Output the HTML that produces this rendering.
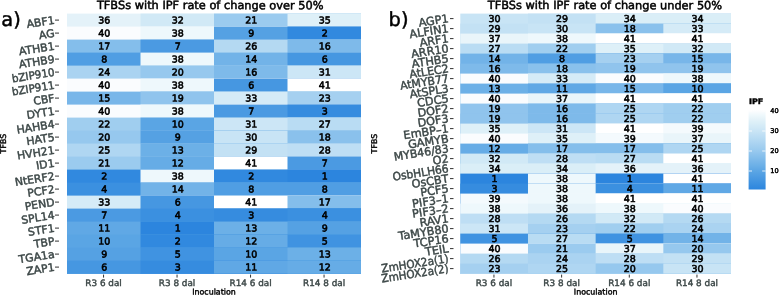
<!DOCTYPE html>
<html><head><meta charset="utf-8"><title>TFBS IPF heatmaps</title>
<style>
html,body{margin:0;padding:0;background:#fff;}
body{width:779px;height:295px;overflow:hidden;}
svg{display:block;font-family:"DejaVu Sans", "Liberation Sans", sans-serif;}
.cell{font-size:9.5px;fill:#000;text-anchor:middle;stroke:#000;stroke-width:0.6px;}
.yl{font-size:10.9px;fill:#3c4747;text-anchor:end;stroke:#3c4747;stroke-width:0.45px;}
.xl{font-size:8.85px;fill:#3c4747;text-anchor:middle;stroke:#3c4747;stroke-width:0.4px;}
.ttl{font-size:11.3px;fill:#000;stroke:#000;stroke-width:0.5px;}
.ax{font-size:7.9px;fill:#000;text-anchor:middle;stroke:#000;stroke-width:0.4px;}
.tag{font-size:19.4px;fill:#000;stroke:#000;stroke-width:0.45px;}
.lg{font-size:6.6px;fill:#000;stroke:#000;stroke-width:0.45px;}
.tk{stroke:#333;stroke-width:1;}
</style></head><body>
<svg width="779" height="295" viewBox="0 0 779 295">
<rect width="779" height="295" fill="#fff"/>
<g>
<rect x="67.00" y="13.60" width="294.00" height="260.00" fill="#e4f2f9"/>
<rect x="140.50" y="13.60" width="220.50" height="260.00" fill="#d1e9f6"/>
<rect x="214.00" y="13.60" width="147.00" height="260.00" fill="#9bcbef"/>
<rect x="287.50" y="13.60" width="73.50" height="260.00" fill="#def0f8"/>
<rect x="67.00" y="26.60" width="294.00" height="247.00" fill="#fafcfe"/>
<rect x="140.50" y="26.60" width="220.50" height="247.00" fill="#eef8fc"/>
<rect x="214.00" y="26.60" width="147.00" height="247.00" fill="#55a1e3"/>
<rect x="287.50" y="26.60" width="73.50" height="247.00" fill="#3189df"/>
<rect x="67.00" y="39.60" width="294.00" height="234.00" fill="#84beeb"/>
<rect x="140.50" y="39.60" width="220.50" height="234.00" fill="#4b9ae2"/>
<rect x="214.00" y="39.60" width="147.00" height="234.00" fill="#b4d9f2"/>
<rect x="287.50" y="39.60" width="73.50" height="234.00" fill="#7ebaea"/>
<rect x="67.00" y="52.60" width="294.00" height="221.00" fill="#509ee3"/>
<rect x="140.50" y="52.60" width="220.50" height="221.00" fill="#eef8fc"/>
<rect x="214.00" y="52.60" width="147.00" height="221.00" fill="#72b3e8"/>
<rect x="287.50" y="52.60" width="73.50" height="221.00" fill="#4697e1"/>
<rect x="67.00" y="65.60" width="294.00" height="208.00" fill="#aad3f1"/>
<rect x="140.50" y="65.60" width="220.50" height="208.00" fill="#96c8ee"/>
<rect x="214.00" y="65.60" width="147.00" height="208.00" fill="#7ebaea"/>
<rect x="287.50" y="65.60" width="73.50" height="208.00" fill="#cce6f6"/>
<rect x="67.00" y="78.60" width="294.00" height="195.00" fill="#fafcfe"/>
<rect x="140.50" y="78.60" width="220.50" height="195.00" fill="#eef8fc"/>
<rect x="214.00" y="78.60" width="147.00" height="195.00" fill="#4697e1"/>
<rect x="287.50" y="78.60" width="73.50" height="195.00" fill="#ffffff"/>
<rect x="67.00" y="91.60" width="294.00" height="182.00" fill="#78b6e9"/>
<rect x="140.50" y="91.60" width="220.50" height="182.00" fill="#90c4ed"/>
<rect x="214.00" y="91.60" width="147.00" height="182.00" fill="#d5ebf7"/>
<rect x="287.50" y="91.60" width="73.50" height="182.00" fill="#a5d0f0"/>
<rect x="67.00" y="104.60" width="294.00" height="169.00" fill="#fafcfe"/>
<rect x="140.50" y="104.60" width="220.50" height="169.00" fill="#eef8fc"/>
<rect x="214.00" y="104.60" width="147.00" height="169.00" fill="#4b9ae2"/>
<rect x="287.50" y="104.60" width="73.50" height="169.00" fill="#368cdf"/>
<rect x="67.00" y="117.60" width="294.00" height="156.00" fill="#a0ceef"/>
<rect x="140.50" y="117.60" width="220.50" height="156.00" fill="#5aa5e4"/>
<rect x="214.00" y="117.60" width="147.00" height="156.00" fill="#cce6f6"/>
<rect x="287.50" y="117.60" width="73.50" height="156.00" fill="#b9dcf3"/>
<rect x="67.00" y="130.60" width="294.00" height="143.00" fill="#96c8ee"/>
<rect x="140.50" y="130.60" width="220.50" height="143.00" fill="#55a1e3"/>
<rect x="214.00" y="130.60" width="147.00" height="143.00" fill="#c8e4f5"/>
<rect x="287.50" y="130.60" width="73.50" height="143.00" fill="#8ac1ec"/>
<rect x="67.00" y="143.60" width="294.00" height="130.00" fill="#afd6f2"/>
<rect x="140.50" y="143.60" width="220.50" height="130.00" fill="#6cb0e7"/>
<rect x="214.00" y="143.60" width="147.00" height="130.00" fill="#c3e1f4"/>
<rect x="287.50" y="143.60" width="73.50" height="130.00" fill="#bedef4"/>
<rect x="67.00" y="156.60" width="294.00" height="117.00" fill="#9bcbef"/>
<rect x="140.50" y="156.60" width="220.50" height="117.00" fill="#66ace6"/>
<rect x="214.00" y="156.60" width="147.00" height="117.00" fill="#ffffff"/>
<rect x="287.50" y="156.60" width="73.50" height="117.00" fill="#4b9ae2"/>
<rect x="67.00" y="169.60" width="294.00" height="104.00" fill="#3189df"/>
<rect x="140.50" y="169.60" width="220.50" height="104.00" fill="#eef8fc"/>
<rect x="214.00" y="169.60" width="147.00" height="104.00" fill="#3189df"/>
<rect x="287.50" y="169.60" width="73.50" height="104.00" fill="#2c85de"/>
<rect x="67.00" y="182.60" width="294.00" height="91.00" fill="#3b90e0"/>
<rect x="140.50" y="182.60" width="220.50" height="91.00" fill="#72b3e8"/>
<rect x="214.00" y="182.60" width="147.00" height="91.00" fill="#509ee3"/>
<rect x="287.50" y="182.60" width="73.50" height="91.00" fill="#509ee3"/>
<rect x="67.00" y="195.60" width="294.00" height="78.00" fill="#d5ebf7"/>
<rect x="140.50" y="195.60" width="220.50" height="78.00" fill="#4697e1"/>
<rect x="214.00" y="195.60" width="147.00" height="78.00" fill="#ffffff"/>
<rect x="287.50" y="195.60" width="73.50" height="78.00" fill="#84beeb"/>
<rect x="67.00" y="208.60" width="294.00" height="65.00" fill="#4b9ae2"/>
<rect x="140.50" y="208.60" width="220.50" height="65.00" fill="#3b90e0"/>
<rect x="214.00" y="208.60" width="147.00" height="65.00" fill="#368cdf"/>
<rect x="287.50" y="208.60" width="73.50" height="65.00" fill="#3b90e0"/>
<rect x="67.00" y="221.60" width="294.00" height="52.00" fill="#60a8e5"/>
<rect x="140.50" y="221.60" width="220.50" height="52.00" fill="#2c85de"/>
<rect x="214.00" y="221.60" width="147.00" height="52.00" fill="#6cb0e7"/>
<rect x="287.50" y="221.60" width="73.50" height="52.00" fill="#55a1e3"/>
<rect x="67.00" y="234.60" width="294.00" height="39.00" fill="#5aa5e4"/>
<rect x="140.50" y="234.60" width="220.50" height="39.00" fill="#3189df"/>
<rect x="214.00" y="234.60" width="147.00" height="39.00" fill="#66ace6"/>
<rect x="287.50" y="234.60" width="73.50" height="39.00" fill="#4093e1"/>
<rect x="67.00" y="247.60" width="294.00" height="26.00" fill="#55a1e3"/>
<rect x="140.50" y="247.60" width="220.50" height="26.00" fill="#4093e1"/>
<rect x="214.00" y="247.60" width="147.00" height="26.00" fill="#5aa5e4"/>
<rect x="287.50" y="247.60" width="73.50" height="26.00" fill="#6cb0e7"/>
<rect x="67.00" y="260.60" width="294.00" height="13.00" fill="#4697e1"/>
<rect x="140.50" y="260.60" width="220.50" height="13.00" fill="#368cdf"/>
<rect x="214.00" y="260.60" width="147.00" height="13.00" fill="#60a8e5"/>
<rect x="287.50" y="260.60" width="73.50" height="13.00" fill="#66ace6"/>
</g>
<text class="cell" transform="translate(104.25 23.50) skewY(0.05)">36</text>
<text class="cell" transform="translate(177.75 23.50) skewY(0.05)">32</text>
<text class="cell" transform="translate(251.25 23.50) skewY(0.05)">21</text>
<text class="cell" transform="translate(324.75 23.50) skewY(0.05)">35</text>
<line class="tk" x1="55" x2="59" y1="20.10" y2="20.10"/>
<text class="yl" style="font-size:10.9px" transform="translate(55.0,23.70) rotate(-9)">ABF1</text>
<text class="cell" transform="translate(104.25 36.50) skewY(0.05)">40</text>
<text class="cell" transform="translate(177.75 36.50) skewY(0.05)">38</text>
<text class="cell" transform="translate(251.25 36.50) skewY(0.05)">9</text>
<text class="cell" transform="translate(324.75 36.50) skewY(0.05)">2</text>
<line class="tk" x1="55" x2="59" y1="33.10" y2="33.10"/>
<text class="yl" style="font-size:10.9px" transform="translate(55.0,36.70) rotate(-9)">AG</text>
<text class="cell" transform="translate(104.25 49.50) skewY(0.05)">17</text>
<text class="cell" transform="translate(177.75 49.50) skewY(0.05)">7</text>
<text class="cell" transform="translate(251.25 49.50) skewY(0.05)">26</text>
<text class="cell" transform="translate(324.75 49.50) skewY(0.05)">16</text>
<line class="tk" x1="55" x2="59" y1="46.10" y2="46.10"/>
<text class="yl" style="font-size:10.9px" transform="translate(55.0,49.70) rotate(-9)">ATHB1</text>
<text class="cell" transform="translate(104.25 62.50) skewY(0.05)">8</text>
<text class="cell" transform="translate(177.75 62.50) skewY(0.05)">38</text>
<text class="cell" transform="translate(251.25 62.50) skewY(0.05)">14</text>
<text class="cell" transform="translate(324.75 62.50) skewY(0.05)">6</text>
<line class="tk" x1="55" x2="59" y1="59.10" y2="59.10"/>
<text class="yl" style="font-size:10.9px" transform="translate(55.0,62.70) rotate(-9)">ATHB9</text>
<text class="cell" transform="translate(104.25 75.50) skewY(0.05)">24</text>
<text class="cell" transform="translate(177.75 75.50) skewY(0.05)">20</text>
<text class="cell" transform="translate(251.25 75.50) skewY(0.05)">16</text>
<text class="cell" transform="translate(324.75 75.50) skewY(0.05)">31</text>
<line class="tk" x1="55" x2="59" y1="72.10" y2="72.10"/>
<text class="yl" style="font-size:10.9px" transform="translate(55.0,75.70) rotate(-9)" textLength="43.0" lengthAdjust="spacingAndGlyphs">bZIP910</text>
<text class="cell" transform="translate(104.25 88.50) skewY(0.05)">40</text>
<text class="cell" transform="translate(177.75 88.50) skewY(0.05)">38</text>
<text class="cell" transform="translate(251.25 88.50) skewY(0.05)">6</text>
<text class="cell" transform="translate(324.75 88.50) skewY(0.05)">41</text>
<line class="tk" x1="55" x2="59" y1="85.10" y2="85.10"/>
<text class="yl" style="font-size:10.9px" transform="translate(55.0,88.70) rotate(-9)" textLength="43.0" lengthAdjust="spacingAndGlyphs">bZIP911</text>
<text class="cell" transform="translate(104.25 101.50) skewY(0.05)">15</text>
<text class="cell" transform="translate(177.75 101.50) skewY(0.05)">19</text>
<text class="cell" transform="translate(251.25 101.50) skewY(0.05)">33</text>
<text class="cell" transform="translate(324.75 101.50) skewY(0.05)">23</text>
<line class="tk" x1="55" x2="59" y1="98.10" y2="98.10"/>
<text class="yl" style="font-size:10.9px" transform="translate(55.0,101.70) rotate(-9)">CBF</text>
<text class="cell" transform="translate(104.25 114.50) skewY(0.05)">40</text>
<text class="cell" transform="translate(177.75 114.50) skewY(0.05)">38</text>
<text class="cell" transform="translate(251.25 114.50) skewY(0.05)">7</text>
<text class="cell" transform="translate(324.75 114.50) skewY(0.05)">3</text>
<line class="tk" x1="55" x2="59" y1="111.10" y2="111.10"/>
<text class="yl" style="font-size:10.9px" transform="translate(55.0,114.70) rotate(-9)">DYT1</text>
<text class="cell" transform="translate(104.25 127.50) skewY(0.05)">22</text>
<text class="cell" transform="translate(177.75 127.50) skewY(0.05)">10</text>
<text class="cell" transform="translate(251.25 127.50) skewY(0.05)">31</text>
<text class="cell" transform="translate(324.75 127.50) skewY(0.05)">27</text>
<line class="tk" x1="55" x2="59" y1="124.10" y2="124.10"/>
<text class="yl" style="font-size:10.9px" transform="translate(55.0,127.70) rotate(-9)">HAHB4</text>
<text class="cell" transform="translate(104.25 140.50) skewY(0.05)">20</text>
<text class="cell" transform="translate(177.75 140.50) skewY(0.05)">9</text>
<text class="cell" transform="translate(251.25 140.50) skewY(0.05)">30</text>
<text class="cell" transform="translate(324.75 140.50) skewY(0.05)">18</text>
<line class="tk" x1="55" x2="59" y1="137.10" y2="137.10"/>
<text class="yl" style="font-size:10.9px" transform="translate(55.0,140.70) rotate(-9)">HAT5</text>
<text class="cell" transform="translate(104.25 153.50) skewY(0.05)">25</text>
<text class="cell" transform="translate(177.75 153.50) skewY(0.05)">13</text>
<text class="cell" transform="translate(251.25 153.50) skewY(0.05)">29</text>
<text class="cell" transform="translate(324.75 153.50) skewY(0.05)">28</text>
<line class="tk" x1="55" x2="59" y1="150.10" y2="150.10"/>
<text class="yl" style="font-size:10.9px" transform="translate(55.0,153.70) rotate(-9)">HVH21</text>
<text class="cell" transform="translate(104.25 166.50) skewY(0.05)">21</text>
<text class="cell" transform="translate(177.75 166.50) skewY(0.05)">12</text>
<text class="cell" transform="translate(251.25 166.50) skewY(0.05)">41</text>
<text class="cell" transform="translate(324.75 166.50) skewY(0.05)">7</text>
<line class="tk" x1="55" x2="59" y1="163.10" y2="163.10"/>
<text class="yl" style="font-size:10.9px" transform="translate(55.0,166.70) rotate(-9)">ID1</text>
<text class="cell" transform="translate(104.25 179.50) skewY(0.05)">2</text>
<text class="cell" transform="translate(177.75 179.50) skewY(0.05)">38</text>
<text class="cell" transform="translate(251.25 179.50) skewY(0.05)">2</text>
<text class="cell" transform="translate(324.75 179.50) skewY(0.05)">1</text>
<line class="tk" x1="55" x2="59" y1="176.10" y2="176.10"/>
<text class="yl" style="font-size:10.9px" transform="translate(55.0,179.70) rotate(-9)">NtERF2</text>
<text class="cell" transform="translate(104.25 192.50) skewY(0.05)">4</text>
<text class="cell" transform="translate(177.75 192.50) skewY(0.05)">14</text>
<text class="cell" transform="translate(251.25 192.50) skewY(0.05)">8</text>
<text class="cell" transform="translate(324.75 192.50) skewY(0.05)">8</text>
<line class="tk" x1="55" x2="59" y1="189.10" y2="189.10"/>
<text class="yl" style="font-size:10.9px" transform="translate(55.0,192.70) rotate(-9)">PCF2</text>
<text class="cell" transform="translate(104.25 205.50) skewY(0.05)">33</text>
<text class="cell" transform="translate(177.75 205.50) skewY(0.05)">6</text>
<text class="cell" transform="translate(251.25 205.50) skewY(0.05)">41</text>
<text class="cell" transform="translate(324.75 205.50) skewY(0.05)">17</text>
<line class="tk" x1="55" x2="59" y1="202.10" y2="202.10"/>
<text class="yl" style="font-size:10.9px" transform="translate(55.0,205.70) rotate(-9)">PEND</text>
<text class="cell" transform="translate(104.25 218.50) skewY(0.05)">7</text>
<text class="cell" transform="translate(177.75 218.50) skewY(0.05)">4</text>
<text class="cell" transform="translate(251.25 218.50) skewY(0.05)">3</text>
<text class="cell" transform="translate(324.75 218.50) skewY(0.05)">4</text>
<line class="tk" x1="55" x2="59" y1="215.10" y2="215.10"/>
<text class="yl" style="font-size:10.9px" transform="translate(55.0,218.70) rotate(-9)">SPL14</text>
<text class="cell" transform="translate(104.25 231.50) skewY(0.05)">11</text>
<text class="cell" transform="translate(177.75 231.50) skewY(0.05)">1</text>
<text class="cell" transform="translate(251.25 231.50) skewY(0.05)">13</text>
<text class="cell" transform="translate(324.75 231.50) skewY(0.05)">9</text>
<line class="tk" x1="55" x2="59" y1="228.10" y2="228.10"/>
<text class="yl" style="font-size:10.9px" transform="translate(55.0,231.70) rotate(-9)">STF1</text>
<text class="cell" transform="translate(104.25 244.50) skewY(0.05)">10</text>
<text class="cell" transform="translate(177.75 244.50) skewY(0.05)">2</text>
<text class="cell" transform="translate(251.25 244.50) skewY(0.05)">12</text>
<text class="cell" transform="translate(324.75 244.50) skewY(0.05)">5</text>
<line class="tk" x1="55" x2="59" y1="241.10" y2="241.10"/>
<text class="yl" style="font-size:10.9px" transform="translate(55.0,244.70) rotate(-9)">TBP</text>
<text class="cell" transform="translate(104.25 257.50) skewY(0.05)">9</text>
<text class="cell" transform="translate(177.75 257.50) skewY(0.05)">5</text>
<text class="cell" transform="translate(251.25 257.50) skewY(0.05)">10</text>
<text class="cell" transform="translate(324.75 257.50) skewY(0.05)">13</text>
<line class="tk" x1="55" x2="59" y1="254.10" y2="254.10"/>
<text class="yl" style="font-size:10.9px" transform="translate(55.0,257.70) rotate(-9)">TGA1a</text>
<text class="cell" transform="translate(104.25 270.50) skewY(0.05)">6</text>
<text class="cell" transform="translate(177.75 270.50) skewY(0.05)">3</text>
<text class="cell" transform="translate(251.25 270.50) skewY(0.05)">11</text>
<text class="cell" transform="translate(324.75 270.50) skewY(0.05)">12</text>
<line class="tk" x1="55" x2="59" y1="267.10" y2="267.10"/>
<text class="yl" style="font-size:10.9px" transform="translate(55.0,270.70) rotate(-9)">ZAP1</text>
<line class="tk" x1="103.55" x2="103.55" y1="274.60" y2="277.60"/>
<text class="xl" transform="translate(103.55 286.0) skewY(0.05)">R3 6 dal</text>
<line class="tk" x1="177.05" x2="177.05" y1="274.60" y2="277.60"/>
<text class="xl" transform="translate(177.05 286.0) skewY(0.05)">R3 8 dal</text>
<line class="tk" x1="250.55" x2="250.55" y1="274.60" y2="277.60"/>
<text class="xl" transform="translate(250.55 286.0) skewY(0.05)">R14 6 dal</text>
<line class="tk" x1="324.05" x2="324.05" y1="274.60" y2="277.60"/>
<text class="xl" transform="translate(324.05 286.0) skewY(0.05)">R14 8 dal</text>
<text class="ax" transform="translate(214.00 294.6) skewY(0.05)">Inoculation</text>
<text class="ax" transform="translate(6.4,143.60) rotate(-90)">TFBS</text>
<text class="ttl" transform="translate(96.9 9.0) skewY(0.05)" textLength="226.6" lengthAdjust="spacingAndGlyphs">TFBSs with IPF rate of change over 50%</text>
<text class="tag" transform="translate(1.3 25.9) skewY(0.05)">a)</text>
<g>
<rect x="460.30" y="13.60" width="270.70" height="260.00" fill="#c8e4f5"/>
<rect x="527.98" y="13.60" width="203.02" height="260.00" fill="#c3e1f4"/>
<rect x="595.65" y="13.60" width="135.35" height="260.00" fill="#daeef7"/>
<rect x="663.33" y="13.60" width="67.67" height="260.00" fill="#daeef7"/>
<rect x="460.30" y="23.60" width="270.70" height="250.00" fill="#c3e1f4"/>
<rect x="527.98" y="23.60" width="203.02" height="250.00" fill="#c8e4f5"/>
<rect x="595.65" y="23.60" width="135.35" height="250.00" fill="#8ac1ec"/>
<rect x="663.33" y="23.60" width="67.67" height="250.00" fill="#d5ebf7"/>
<rect x="460.30" y="33.60" width="270.70" height="240.00" fill="#e9f5fa"/>
<rect x="527.98" y="33.60" width="203.02" height="240.00" fill="#eef8fc"/>
<rect x="595.65" y="33.60" width="135.35" height="240.00" fill="#ffffff"/>
<rect x="663.33" y="33.60" width="67.67" height="240.00" fill="#ffffff"/>
<rect x="460.30" y="43.60" width="270.70" height="230.00" fill="#b9dcf3"/>
<rect x="527.98" y="43.60" width="203.02" height="230.00" fill="#a0ceef"/>
<rect x="595.65" y="43.60" width="135.35" height="230.00" fill="#def0f8"/>
<rect x="663.33" y="43.60" width="67.67" height="230.00" fill="#d1e9f6"/>
<rect x="460.30" y="53.60" width="270.70" height="220.00" fill="#72b3e8"/>
<rect x="527.98" y="53.60" width="203.02" height="220.00" fill="#509ee3"/>
<rect x="595.65" y="53.60" width="135.35" height="220.00" fill="#a5d0f0"/>
<rect x="663.33" y="53.60" width="67.67" height="220.00" fill="#78b6e9"/>
<rect x="460.30" y="63.60" width="270.70" height="210.00" fill="#7ebaea"/>
<rect x="527.98" y="63.60" width="203.02" height="210.00" fill="#8ac1ec"/>
<rect x="595.65" y="63.60" width="135.35" height="210.00" fill="#90c4ed"/>
<rect x="663.33" y="63.60" width="67.67" height="210.00" fill="#90c4ed"/>
<rect x="460.30" y="73.60" width="270.70" height="200.00" fill="#fafcfe"/>
<rect x="527.98" y="73.60" width="203.02" height="200.00" fill="#d5ebf7"/>
<rect x="595.65" y="73.60" width="135.35" height="200.00" fill="#fafcfe"/>
<rect x="663.33" y="73.60" width="67.67" height="200.00" fill="#eef8fc"/>
<rect x="460.30" y="83.60" width="270.70" height="190.00" fill="#6cb0e7"/>
<rect x="527.98" y="83.60" width="203.02" height="190.00" fill="#60a8e5"/>
<rect x="595.65" y="83.60" width="135.35" height="190.00" fill="#78b6e9"/>
<rect x="663.33" y="83.60" width="67.67" height="190.00" fill="#5aa5e4"/>
<rect x="460.30" y="93.60" width="270.70" height="180.00" fill="#fafcfe"/>
<rect x="527.98" y="93.60" width="203.02" height="180.00" fill="#e9f5fa"/>
<rect x="595.65" y="93.60" width="135.35" height="180.00" fill="#ffffff"/>
<rect x="663.33" y="93.60" width="67.67" height="180.00" fill="#ffffff"/>
<rect x="460.30" y="103.60" width="270.70" height="170.00" fill="#90c4ed"/>
<rect x="527.98" y="103.60" width="203.02" height="170.00" fill="#7ebaea"/>
<rect x="595.65" y="103.60" width="135.35" height="170.00" fill="#afd6f2"/>
<rect x="663.33" y="103.60" width="67.67" height="170.00" fill="#a0ceef"/>
<rect x="460.30" y="113.60" width="270.70" height="160.00" fill="#90c4ed"/>
<rect x="527.98" y="113.60" width="203.02" height="160.00" fill="#7ebaea"/>
<rect x="595.65" y="113.60" width="135.35" height="160.00" fill="#afd6f2"/>
<rect x="663.33" y="113.60" width="67.67" height="160.00" fill="#a0ceef"/>
<rect x="460.30" y="123.60" width="270.70" height="150.00" fill="#def0f8"/>
<rect x="527.98" y="123.60" width="203.02" height="150.00" fill="#cce6f6"/>
<rect x="595.65" y="123.60" width="135.35" height="150.00" fill="#ffffff"/>
<rect x="663.33" y="123.60" width="67.67" height="150.00" fill="#f4fafd"/>
<rect x="460.30" y="133.60" width="270.70" height="140.00" fill="#fafcfe"/>
<rect x="527.98" y="133.60" width="203.02" height="140.00" fill="#def0f8"/>
<rect x="595.65" y="133.60" width="135.35" height="140.00" fill="#f4fafd"/>
<rect x="663.33" y="133.60" width="67.67" height="140.00" fill="#e9f5fa"/>
<rect x="460.30" y="143.60" width="270.70" height="130.00" fill="#66ace6"/>
<rect x="527.98" y="143.60" width="203.02" height="130.00" fill="#84beeb"/>
<rect x="595.65" y="143.60" width="135.35" height="130.00" fill="#84beeb"/>
<rect x="663.33" y="143.60" width="67.67" height="130.00" fill="#afd6f2"/>
<rect x="460.30" y="153.60" width="270.70" height="120.00" fill="#d1e9f6"/>
<rect x="527.98" y="153.60" width="203.02" height="120.00" fill="#bedef4"/>
<rect x="595.65" y="153.60" width="135.35" height="120.00" fill="#b9dcf3"/>
<rect x="663.33" y="153.60" width="67.67" height="120.00" fill="#ffffff"/>
<rect x="460.30" y="163.60" width="270.70" height="110.00" fill="#daeef7"/>
<rect x="527.98" y="163.60" width="203.02" height="110.00" fill="#daeef7"/>
<rect x="595.65" y="163.60" width="135.35" height="110.00" fill="#e4f2f9"/>
<rect x="663.33" y="163.60" width="67.67" height="110.00" fill="#e4f2f9"/>
<rect x="460.30" y="173.60" width="270.70" height="100.00" fill="#2c85de"/>
<rect x="527.98" y="173.60" width="203.02" height="100.00" fill="#eef8fc"/>
<rect x="595.65" y="173.60" width="135.35" height="100.00" fill="#2c85de"/>
<rect x="663.33" y="173.60" width="67.67" height="100.00" fill="#ffffff"/>
<rect x="460.30" y="183.60" width="270.70" height="90.00" fill="#368cdf"/>
<rect x="527.98" y="183.60" width="203.02" height="90.00" fill="#eef8fc"/>
<rect x="595.65" y="183.60" width="135.35" height="90.00" fill="#3b90e0"/>
<rect x="663.33" y="183.60" width="67.67" height="90.00" fill="#60a8e5"/>
<rect x="460.30" y="193.60" width="270.70" height="80.00" fill="#f4fafd"/>
<rect x="527.98" y="193.60" width="203.02" height="80.00" fill="#eef8fc"/>
<rect x="595.65" y="193.60" width="135.35" height="80.00" fill="#ffffff"/>
<rect x="663.33" y="193.60" width="67.67" height="80.00" fill="#ffffff"/>
<rect x="460.30" y="203.60" width="270.70" height="70.00" fill="#eef8fc"/>
<rect x="527.98" y="203.60" width="203.02" height="70.00" fill="#e4f2f9"/>
<rect x="595.65" y="203.60" width="135.35" height="70.00" fill="#eef8fc"/>
<rect x="663.33" y="203.60" width="67.67" height="70.00" fill="#fafcfe"/>
<rect x="460.30" y="213.60" width="270.70" height="60.00" fill="#bedef4"/>
<rect x="527.98" y="213.60" width="203.02" height="60.00" fill="#b4d9f2"/>
<rect x="595.65" y="213.60" width="135.35" height="60.00" fill="#d1e9f6"/>
<rect x="663.33" y="213.60" width="67.67" height="60.00" fill="#b4d9f2"/>
<rect x="460.30" y="223.60" width="270.70" height="50.00" fill="#cce6f6"/>
<rect x="527.98" y="223.60" width="203.02" height="50.00" fill="#a5d0f0"/>
<rect x="595.65" y="223.60" width="135.35" height="50.00" fill="#a0ceef"/>
<rect x="663.33" y="223.60" width="67.67" height="50.00" fill="#aad3f1"/>
<rect x="460.30" y="233.60" width="270.70" height="40.00" fill="#4093e1"/>
<rect x="527.98" y="233.60" width="203.02" height="40.00" fill="#b9dcf3"/>
<rect x="595.65" y="233.60" width="135.35" height="40.00" fill="#4093e1"/>
<rect x="663.33" y="233.60" width="67.67" height="40.00" fill="#72b3e8"/>
<rect x="460.30" y="243.60" width="270.70" height="30.00" fill="#fafcfe"/>
<rect x="527.98" y="243.60" width="203.02" height="30.00" fill="#9bcbef"/>
<rect x="595.65" y="243.60" width="135.35" height="30.00" fill="#e9f5fa"/>
<rect x="663.33" y="243.60" width="67.67" height="30.00" fill="#96c8ee"/>
<rect x="460.30" y="253.60" width="270.70" height="20.00" fill="#b4d9f2"/>
<rect x="527.98" y="253.60" width="203.02" height="20.00" fill="#aad3f1"/>
<rect x="595.65" y="253.60" width="135.35" height="20.00" fill="#bedef4"/>
<rect x="663.33" y="253.60" width="67.67" height="20.00" fill="#c3e1f4"/>
<rect x="460.30" y="263.60" width="270.70" height="10.00" fill="#a5d0f0"/>
<rect x="527.98" y="263.60" width="203.02" height="10.00" fill="#afd6f2"/>
<rect x="595.65" y="263.60" width="135.35" height="10.00" fill="#96c8ee"/>
<rect x="663.33" y="263.60" width="67.67" height="10.00" fill="#c8e4f5"/>
</g>
<text class="cell" transform="translate(494.44 22.00) skewY(0.05)">30</text>
<text class="cell" transform="translate(562.11 22.00) skewY(0.05)">29</text>
<text class="cell" transform="translate(629.79 22.00) skewY(0.05)">34</text>
<text class="cell" transform="translate(697.46 22.00) skewY(0.05)">34</text>
<line class="tk" x1="450" x2="453.5" y1="18.60" y2="18.60"/>
<text class="yl" style="font-size:11.3px" transform="translate(449.1,22.20) rotate(-8.8)">AGP1</text>
<text class="cell" transform="translate(494.44 32.00) skewY(0.05)">29</text>
<text class="cell" transform="translate(562.11 32.00) skewY(0.05)">30</text>
<text class="cell" transform="translate(629.79 32.00) skewY(0.05)">18</text>
<text class="cell" transform="translate(697.46 32.00) skewY(0.05)">33</text>
<line class="tk" x1="450" x2="453.5" y1="28.60" y2="28.60"/>
<text class="yl" style="font-size:11.3px" transform="translate(449.1,32.20) rotate(-8.8)">ALFIN1</text>
<text class="cell" transform="translate(494.44 42.00) skewY(0.05)">37</text>
<text class="cell" transform="translate(562.11 42.00) skewY(0.05)">38</text>
<text class="cell" transform="translate(629.79 42.00) skewY(0.05)">41</text>
<text class="cell" transform="translate(697.46 42.00) skewY(0.05)">41</text>
<line class="tk" x1="450" x2="453.5" y1="38.60" y2="38.60"/>
<text class="yl" style="font-size:11.3px" transform="translate(449.1,42.20) rotate(-8.8)">ARF1</text>
<text class="cell" transform="translate(494.44 52.00) skewY(0.05)">27</text>
<text class="cell" transform="translate(562.11 52.00) skewY(0.05)">22</text>
<text class="cell" transform="translate(629.79 52.00) skewY(0.05)">35</text>
<text class="cell" transform="translate(697.46 52.00) skewY(0.05)">32</text>
<line class="tk" x1="450" x2="453.5" y1="48.60" y2="48.60"/>
<text class="yl" style="font-size:11.3px" transform="translate(449.1,52.20) rotate(-8.8)">ARR10</text>
<text class="cell" transform="translate(494.44 62.00) skewY(0.05)">14</text>
<text class="cell" transform="translate(562.11 62.00) skewY(0.05)">8</text>
<text class="cell" transform="translate(629.79 62.00) skewY(0.05)">23</text>
<text class="cell" transform="translate(697.46 62.00) skewY(0.05)">15</text>
<line class="tk" x1="450" x2="453.5" y1="58.60" y2="58.60"/>
<text class="yl" style="font-size:11.3px" transform="translate(449.1,62.20) rotate(-8.8)">ATHB5</text>
<text class="cell" transform="translate(494.44 72.00) skewY(0.05)">16</text>
<text class="cell" transform="translate(562.11 72.00) skewY(0.05)">18</text>
<text class="cell" transform="translate(629.79 72.00) skewY(0.05)">19</text>
<text class="cell" transform="translate(697.46 72.00) skewY(0.05)">19</text>
<line class="tk" x1="450" x2="453.5" y1="68.60" y2="68.60"/>
<text class="yl" style="font-size:11.3px" transform="translate(449.1,72.20) rotate(-8.8)" textLength="39.5" lengthAdjust="spacingAndGlyphs">AtLEC2</text>
<text class="cell" transform="translate(494.44 82.00) skewY(0.05)">40</text>
<text class="cell" transform="translate(562.11 82.00) skewY(0.05)">33</text>
<text class="cell" transform="translate(629.79 82.00) skewY(0.05)">40</text>
<text class="cell" transform="translate(697.46 82.00) skewY(0.05)">38</text>
<line class="tk" x1="450" x2="453.5" y1="78.60" y2="78.60"/>
<text class="yl" style="font-size:11.3px" transform="translate(449.1,82.20) rotate(-8.8)" textLength="49.0" lengthAdjust="spacingAndGlyphs">AtMYB77</text>
<text class="cell" transform="translate(494.44 92.00) skewY(0.05)">13</text>
<text class="cell" transform="translate(562.11 92.00) skewY(0.05)">11</text>
<text class="cell" transform="translate(629.79 92.00) skewY(0.05)">15</text>
<text class="cell" transform="translate(697.46 92.00) skewY(0.05)">10</text>
<line class="tk" x1="450" x2="453.5" y1="88.60" y2="88.60"/>
<text class="yl" style="font-size:11.3px" transform="translate(449.1,92.20) rotate(-8.8)">AtSPL3</text>
<text class="cell" transform="translate(494.44 102.00) skewY(0.05)">40</text>
<text class="cell" transform="translate(562.11 102.00) skewY(0.05)">37</text>
<text class="cell" transform="translate(629.79 102.00) skewY(0.05)">41</text>
<text class="cell" transform="translate(697.46 102.00) skewY(0.05)">41</text>
<line class="tk" x1="450" x2="453.5" y1="98.60" y2="98.60"/>
<text class="yl" style="font-size:11.3px" transform="translate(449.1,102.20) rotate(-8.8)">CDC5</text>
<text class="cell" transform="translate(494.44 112.00) skewY(0.05)">19</text>
<text class="cell" transform="translate(562.11 112.00) skewY(0.05)">16</text>
<text class="cell" transform="translate(629.79 112.00) skewY(0.05)">25</text>
<text class="cell" transform="translate(697.46 112.00) skewY(0.05)">22</text>
<line class="tk" x1="450" x2="453.5" y1="108.60" y2="108.60"/>
<text class="yl" style="font-size:11.3px" transform="translate(449.1,112.20) rotate(-8.8)">DOF2</text>
<text class="cell" transform="translate(494.44 122.00) skewY(0.05)">19</text>
<text class="cell" transform="translate(562.11 122.00) skewY(0.05)">16</text>
<text class="cell" transform="translate(629.79 122.00) skewY(0.05)">25</text>
<text class="cell" transform="translate(697.46 122.00) skewY(0.05)">22</text>
<line class="tk" x1="450" x2="453.5" y1="118.60" y2="118.60"/>
<text class="yl" style="font-size:11.3px" transform="translate(449.1,122.20) rotate(-8.8)">DOF3</text>
<text class="cell" transform="translate(494.44 132.00) skewY(0.05)">35</text>
<text class="cell" transform="translate(562.11 132.00) skewY(0.05)">31</text>
<text class="cell" transform="translate(629.79 132.00) skewY(0.05)">41</text>
<text class="cell" transform="translate(697.46 132.00) skewY(0.05)">39</text>
<line class="tk" x1="450" x2="453.5" y1="128.60" y2="128.60"/>
<text class="yl" style="font-size:11.3px" transform="translate(449.1,132.20) rotate(-8.8)">EmBP–1</text>
<text class="cell" transform="translate(494.44 142.00) skewY(0.05)">40</text>
<text class="cell" transform="translate(562.11 142.00) skewY(0.05)">35</text>
<text class="cell" transform="translate(629.79 142.00) skewY(0.05)">39</text>
<text class="cell" transform="translate(697.46 142.00) skewY(0.05)">37</text>
<line class="tk" x1="450" x2="453.5" y1="138.60" y2="138.60"/>
<text class="yl" style="font-size:11.3px" transform="translate(449.1,142.20) rotate(-8.8)">GAMYB</text>
<text class="cell" transform="translate(494.44 152.00) skewY(0.05)">12</text>
<text class="cell" transform="translate(562.11 152.00) skewY(0.05)">17</text>
<text class="cell" transform="translate(629.79 152.00) skewY(0.05)">17</text>
<text class="cell" transform="translate(697.46 152.00) skewY(0.05)">25</text>
<line class="tk" x1="450" x2="453.5" y1="148.60" y2="148.60"/>
<text class="yl" style="font-size:11.3px" transform="translate(449.1,152.20) rotate(-8.8)" textLength="55.3" lengthAdjust="spacingAndGlyphs">MYB46/83</text>
<text class="cell" transform="translate(494.44 162.00) skewY(0.05)">32</text>
<text class="cell" transform="translate(562.11 162.00) skewY(0.05)">28</text>
<text class="cell" transform="translate(629.79 162.00) skewY(0.05)">27</text>
<text class="cell" transform="translate(697.46 162.00) skewY(0.05)">41</text>
<line class="tk" x1="450" x2="453.5" y1="158.60" y2="158.60"/>
<text class="yl" style="font-size:11.3px" transform="translate(449.1,162.20) rotate(-8.8)">O2</text>
<text class="cell" transform="translate(494.44 172.00) skewY(0.05)">34</text>
<text class="cell" transform="translate(562.11 172.00) skewY(0.05)">34</text>
<text class="cell" transform="translate(629.79 172.00) skewY(0.05)">36</text>
<text class="cell" transform="translate(697.46 172.00) skewY(0.05)">36</text>
<line class="tk" x1="450" x2="453.5" y1="168.60" y2="168.60"/>
<text class="yl" style="font-size:11.3px" transform="translate(449.1,172.20) rotate(-8.8)" textLength="56.6" lengthAdjust="spacingAndGlyphs">OsbHLH66</text>
<text class="cell" transform="translate(494.44 182.00) skewY(0.05)">1</text>
<text class="cell" transform="translate(562.11 182.00) skewY(0.05)">38</text>
<text class="cell" transform="translate(629.79 182.00) skewY(0.05)">1</text>
<text class="cell" transform="translate(697.46 182.00) skewY(0.05)">41</text>
<line class="tk" x1="450" x2="453.5" y1="178.60" y2="178.60"/>
<text class="yl" style="font-size:11.3px" transform="translate(449.1,182.20) rotate(-8.8)">OsCBT</text>
<text class="cell" transform="translate(494.44 192.00) skewY(0.05)">3</text>
<text class="cell" transform="translate(562.11 192.00) skewY(0.05)">38</text>
<text class="cell" transform="translate(629.79 192.00) skewY(0.05)">4</text>
<text class="cell" transform="translate(697.46 192.00) skewY(0.05)">11</text>
<line class="tk" x1="450" x2="453.5" y1="188.60" y2="188.60"/>
<text class="yl" style="font-size:11.3px" transform="translate(449.1,192.20) rotate(-8.8)">PCF5</text>
<text class="cell" transform="translate(494.44 202.00) skewY(0.05)">39</text>
<text class="cell" transform="translate(562.11 202.00) skewY(0.05)">38</text>
<text class="cell" transform="translate(629.79 202.00) skewY(0.05)">41</text>
<text class="cell" transform="translate(697.46 202.00) skewY(0.05)">41</text>
<line class="tk" x1="450" x2="453.5" y1="198.60" y2="198.60"/>
<text class="yl" style="font-size:11.3px" transform="translate(449.1,202.20) rotate(-8.8)">PIF3–1</text>
<text class="cell" transform="translate(494.44 212.00) skewY(0.05)">38</text>
<text class="cell" transform="translate(562.11 212.00) skewY(0.05)">36</text>
<text class="cell" transform="translate(629.79 212.00) skewY(0.05)">38</text>
<text class="cell" transform="translate(697.46 212.00) skewY(0.05)">40</text>
<line class="tk" x1="450" x2="453.5" y1="208.60" y2="208.60"/>
<text class="yl" style="font-size:11.3px" transform="translate(449.1,212.20) rotate(-8.8)">PIF3–2</text>
<text class="cell" transform="translate(494.44 222.00) skewY(0.05)">28</text>
<text class="cell" transform="translate(562.11 222.00) skewY(0.05)">26</text>
<text class="cell" transform="translate(629.79 222.00) skewY(0.05)">32</text>
<text class="cell" transform="translate(697.46 222.00) skewY(0.05)">26</text>
<line class="tk" x1="450" x2="453.5" y1="218.60" y2="218.60"/>
<text class="yl" style="font-size:11.3px" transform="translate(449.1,222.20) rotate(-8.8)">RAV1</text>
<text class="cell" transform="translate(494.44 232.00) skewY(0.05)">31</text>
<text class="cell" transform="translate(562.11 232.00) skewY(0.05)">23</text>
<text class="cell" transform="translate(629.79 232.00) skewY(0.05)">22</text>
<text class="cell" transform="translate(697.46 232.00) skewY(0.05)">24</text>
<line class="tk" x1="450" x2="453.5" y1="228.60" y2="228.60"/>
<text class="yl" style="font-size:11.3px" transform="translate(449.1,232.20) rotate(-8.8)">TaMYB80</text>
<text class="cell" transform="translate(494.44 242.00) skewY(0.05)">5</text>
<text class="cell" transform="translate(562.11 242.00) skewY(0.05)">27</text>
<text class="cell" transform="translate(629.79 242.00) skewY(0.05)">5</text>
<text class="cell" transform="translate(697.46 242.00) skewY(0.05)">14</text>
<line class="tk" x1="450" x2="453.5" y1="238.60" y2="238.60"/>
<text class="yl" style="font-size:11.3px" transform="translate(449.1,242.20) rotate(-8.8)">TCP16</text>
<text class="cell" transform="translate(494.44 252.00) skewY(0.05)">40</text>
<text class="cell" transform="translate(562.11 252.00) skewY(0.05)">21</text>
<text class="cell" transform="translate(629.79 252.00) skewY(0.05)">37</text>
<text class="cell" transform="translate(697.46 252.00) skewY(0.05)">20</text>
<line class="tk" x1="450" x2="453.5" y1="248.60" y2="248.60"/>
<text class="yl" style="font-size:11.3px" transform="translate(449.1,252.20) rotate(-8.8)">TEIL</text>
<text class="cell" transform="translate(494.44 262.00) skewY(0.05)">26</text>
<text class="cell" transform="translate(562.11 262.00) skewY(0.05)">24</text>
<text class="cell" transform="translate(629.79 262.00) skewY(0.05)">28</text>
<text class="cell" transform="translate(697.46 262.00) skewY(0.05)">29</text>
<line class="tk" x1="450" x2="453.5" y1="258.60" y2="258.60"/>
<text class="yl" style="font-size:11.3px" transform="translate(449.1,262.20) rotate(-8.8)" textLength="67.8" lengthAdjust="spacingAndGlyphs">ZmHOX2a(1)</text>
<text class="cell" transform="translate(494.44 272.00) skewY(0.05)">23</text>
<text class="cell" transform="translate(562.11 272.00) skewY(0.05)">25</text>
<text class="cell" transform="translate(629.79 272.00) skewY(0.05)">20</text>
<text class="cell" transform="translate(697.46 272.00) skewY(0.05)">30</text>
<line class="tk" x1="450" x2="453.5" y1="268.60" y2="268.60"/>
<text class="yl" style="font-size:11.3px" transform="translate(449.1,272.20) rotate(-8.8)" textLength="67.8" lengthAdjust="spacingAndGlyphs">ZmHOX2a(2)</text>
<line class="tk" x1="493.94" x2="493.94" y1="274.60" y2="277.60"/>
<text class="xl" transform="translate(493.94 286.0) skewY(0.05)">R3 6 dal</text>
<line class="tk" x1="561.61" x2="561.61" y1="274.60" y2="277.60"/>
<text class="xl" transform="translate(561.61 286.0) skewY(0.05)">R3 8 dal</text>
<line class="tk" x1="629.29" x2="629.29" y1="274.60" y2="277.60"/>
<text class="xl" transform="translate(629.29 286.0) skewY(0.05)">R14 6 dal</text>
<line class="tk" x1="696.96" x2="696.96" y1="274.60" y2="277.60"/>
<text class="xl" transform="translate(696.96 286.0) skewY(0.05)">R14 8 dal</text>
<text class="ax" transform="translate(595.65 294.6) skewY(0.05)">Inoculation</text>
<text class="ax" transform="translate(377.2,143.60) rotate(-90)">TFBS</text>
<text class="ttl" transform="translate(487.7 9.0) skewY(0.05)" textLength="234.4" lengthAdjust="spacingAndGlyphs">TFBSs with IPF rate of change under 50%</text>
<text class="tag" transform="translate(388.6 25.9) skewY(0.05)">b)</text>
<defs><linearGradient id="lg" x1="0" y1="0" x2="0" y2="1">
<stop offset="0.0000" stop-color="#ffffff"/>
<stop offset="0.0250" stop-color="#fafcfe"/>
<stop offset="0.0500" stop-color="#f4fafd"/>
<stop offset="0.0750" stop-color="#eef8fc"/>
<stop offset="0.1000" stop-color="#e9f5fa"/>
<stop offset="0.1250" stop-color="#e4f2f9"/>
<stop offset="0.1500" stop-color="#def0f8"/>
<stop offset="0.1750" stop-color="#daeef7"/>
<stop offset="0.2000" stop-color="#d5ebf7"/>
<stop offset="0.2250" stop-color="#d1e9f6"/>
<stop offset="0.2500" stop-color="#cce6f6"/>
<stop offset="0.2750" stop-color="#c8e4f5"/>
<stop offset="0.3000" stop-color="#c3e1f4"/>
<stop offset="0.3250" stop-color="#bedef4"/>
<stop offset="0.3500" stop-color="#b9dcf3"/>
<stop offset="0.3750" stop-color="#b4d9f2"/>
<stop offset="0.4000" stop-color="#afd6f2"/>
<stop offset="0.4250" stop-color="#aad3f1"/>
<stop offset="0.4500" stop-color="#a5d0f0"/>
<stop offset="0.4750" stop-color="#a0ceef"/>
<stop offset="0.5000" stop-color="#9bcbef"/>
<stop offset="0.5250" stop-color="#96c8ee"/>
<stop offset="0.5500" stop-color="#90c4ed"/>
<stop offset="0.5750" stop-color="#8ac1ec"/>
<stop offset="0.6000" stop-color="#84beeb"/>
<stop offset="0.6250" stop-color="#7ebaea"/>
<stop offset="0.6500" stop-color="#78b6e9"/>
<stop offset="0.6750" stop-color="#72b3e8"/>
<stop offset="0.7000" stop-color="#6cb0e7"/>
<stop offset="0.7250" stop-color="#66ace6"/>
<stop offset="0.7500" stop-color="#60a8e5"/>
<stop offset="0.7750" stop-color="#5aa5e4"/>
<stop offset="0.8000" stop-color="#55a1e3"/>
<stop offset="0.8250" stop-color="#509ee3"/>
<stop offset="0.8500" stop-color="#4b9ae2"/>
<stop offset="0.8750" stop-color="#4697e1"/>
<stop offset="0.9000" stop-color="#4093e1"/>
<stop offset="0.9250" stop-color="#3b90e0"/>
<stop offset="0.9500" stop-color="#368cdf"/>
<stop offset="0.9750" stop-color="#3189df"/>
<stop offset="1.0000" stop-color="#2c85de"/>
</linearGradient></defs>
<rect x="748.6" y="109.5" width="17" height="80" fill="url(#lg)"/>
<line x1="748.6" x2="752" y1="111" y2="111" stroke="#fff" stroke-width="0.8"/><line x1="762.2" x2="765.6" y1="111" y2="111" stroke="#fff" stroke-width="0.8"/>
<text class="lg" transform="translate(770.3 113.0) skewY(0.05)">40</text>
<line x1="748.6" x2="752" y1="131" y2="131" stroke="#fff" stroke-width="0.8"/><line x1="762.2" x2="765.6" y1="131" y2="131" stroke="#fff" stroke-width="0.8"/>
<text class="lg" transform="translate(770.3 133.0) skewY(0.05)">30</text>
<line x1="748.6" x2="752" y1="151" y2="151" stroke="#fff" stroke-width="0.8"/><line x1="762.2" x2="765.6" y1="151" y2="151" stroke="#fff" stroke-width="0.8"/>
<text class="lg" transform="translate(770.3 153.0) skewY(0.05)">20</text>
<line x1="748.6" x2="752" y1="171" y2="171" stroke="#fff" stroke-width="0.8"/><line x1="762.2" x2="765.6" y1="171" y2="171" stroke="#fff" stroke-width="0.8"/>
<text class="lg" transform="translate(770.3 173.0) skewY(0.05)">10</text>
<text transform="translate(748.9 104.1) skewY(0.05)" textLength="14.4" lengthAdjust="spacingAndGlyphs" style="font-size:7.6px;font-weight:bold;fill:#000;stroke:#000;stroke-width:0.4px">IPF</text>
</svg></body></html>
